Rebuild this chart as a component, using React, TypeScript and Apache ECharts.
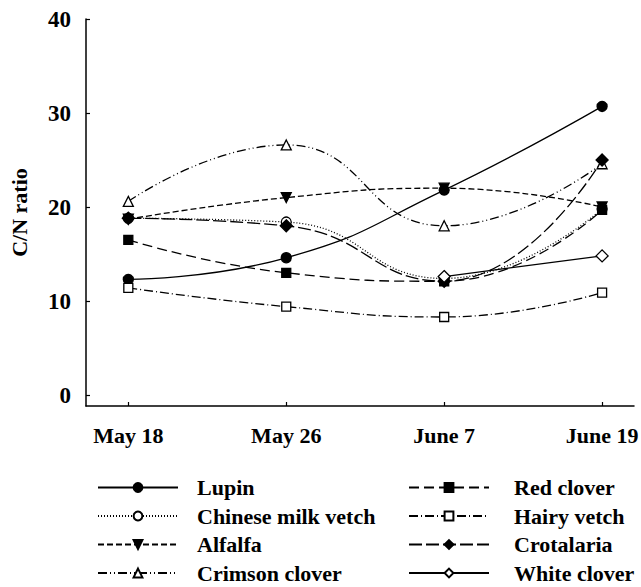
import React, { useEffect, useRef } from "react";
import * as echarts from "echarts";

const categories = ["May 18", "May 26", "June 7", "June 19"];
const xTicks = [0, 1, 2, 3];
const yTicks = [0, 10, 20, 30, 40];

const lupin = [12.3, 14.6, 21.8, 30.7];
const chineseMilkVetch = [18.8, 18.4, 12.4, 19.8];
const alfalfa = [18.7, 21.0, 22.0, 20.0];
const crimsonClover = [20.6, 26.6, 18.0, 24.6];
const redClover = [16.5, 13.0, 12.1, 19.7];
const hairyVetch = [11.4, 9.4, 8.3, 10.9];
const crotalaria = [18.8, 18.0, 12.1, 25.0];
const whiteClover: (number | null)[] = [null, null, 12.6, 14.8];

const FONT = "'Liberation Serif', 'Times New Roman', serif";

const toPoints = (vals: (number | null)[]) =>
  vals
    .map((v, i) => (v === null ? null : [i, v]))
    .filter((p) => p !== null);

type Spec = {
  name: string;
  values: (number | null)[];
  symbol: string;
  filled: boolean;
  dash: any;
  size?: number;
};

const specs: Spec[] = [
  { name: "Lupin", values: lupin, symbol: "circle", filled: true, dash: "solid" },
  { name: "Chinese milk vetch", values: chineseMilkVetch, symbol: "circle", filled: false, dash: [1, 2] },
  { name: "Alfalfa", values: alfalfa, symbol: "path://M0,0L10,0L5,9Z", filled: true, dash: [6, 3] },
  { name: "Crimson clover", values: crimsonClover, symbol: "triangle", filled: false, dash: [9, 3, 1, 3, 1, 3] },
  { name: "Red clover", values: redClover, symbol: "rect", filled: true, dash: [10, 5], size: 9 },
  { name: "Hairy vetch", values: hairyVetch, symbol: "rect", filled: false, dash: [9, 3, 1, 3], size: 9 },
  { name: "Crotalaria", values: crotalaria, symbol: "diamond", filled: true, dash: [13, 4], size: 12 },
  { name: "White clover", values: whiteClover, symbol: "diamond", filled: false, dash: "solid", size: 12 },
];

export default function App() {
  const ref = useRef<HTMLDivElement>(null);
  useEffect(() => {
    if (!ref.current) return;
    const chart = echarts.init(ref.current, null, { renderer: "svg" });
    const legendText = {
      fontFamily: FONT,
      fontWeight: "bold",
      fontSize: 22,
      color: "#000",
      lineHeight: 20,
      padding: [0, 0, 0, 14],
    };
    chart.setOption({
      animation: false,
      backgroundColor: "#fff",
      grid: { left: 78, right: 6, top: 19, bottom: 181, containLabel: false },
      xAxis: {
        type: "value",
        min: -0.268,
        max: 3.202,
        axisLine: { show: true, onZero: false, lineStyle: { color: "#000", width: 1.5 } },
        axisTick: {
          show: true,
          inside: true,
          length: 4,
          customValues: xTicks,
          lineStyle: { color: "#000", width: 1.2 },
        },
        axisLabel: {
          customValues: xTicks,
          formatter: (v: number) => categories[Math.round(v)] ?? "",
          fontFamily: FONT,
          fontWeight: "bold",
          fontSize: 22,
          color: "#000",
          margin: 18,
        },
        splitLine: { show: false },
      },
      yAxis: {
        type: "value",
        min: -1.17,
        max: 40,
        name: "C/N ratio",
        nameLocation: "middle",
        nameRotate: 90,
        nameGap: 56,
        nameTextStyle: {
          fontFamily: FONT,
          fontWeight: "bold",
          fontSize: 22,
          color: "#000",
        },
        axisLine: { show: true, onZero: false, lineStyle: { color: "#000", width: 1.5 } },
        axisTick: {
          show: true,
          inside: true,
          length: 4,
          customValues: yTicks,
          lineStyle: { color: "#000", width: 1.2 },
        },
        axisLabel: {
          customValues: yTicks,
          fontFamily: FONT,
          fontWeight: "bold",
          fontSize: 23,
          color: "#000",
          margin: 15,
        },
        splitLine: { show: false },
      },
      legend: [
        {
          data: specs.slice(0, 4).map((s) => s.name),
          orient: "vertical",
          left: 97,
          bottom: 3,
          padding: 0,
          itemWidth: 80,
          itemHeight: 11,
          itemGap: 6.5,
          textStyle: legendText,
          selectedMode: false,
        },
        {
          data: specs.slice(4).map((s) => s.name),
          orient: "vertical",
          left: 408,
          bottom: 3,
          padding: 0,
          itemWidth: 80,
          itemHeight: 11,
          itemGap: 6.5,
          textStyle: { ...legendText, padding: [0, 0, 0, 20] },
          selectedMode: false,
        },
      ],
      series: specs.map((s) => ({
        name: s.name,
        type: "line",
        smooth: 0.5,
        data: toPoints(s.values),
        symbol: s.symbol,
        symbolSize: s.size ?? 10,
        showSymbol: true,
        lineStyle: { color: "#000", width: 1.3, type: s.dash },
        itemStyle: {
          color: s.filled ? "#000" : "#fff",
          borderColor: "#000",
          borderWidth: 1.3,
        },
        emphasis: { disabled: true },
      })),
    });
    return () => chart.dispose();
  }, []);
  return (
    <div
      ref={ref}
      style={{ position: "fixed", left: 0, top: 0, width: 641, height: 587 }}
    />
  );
}
